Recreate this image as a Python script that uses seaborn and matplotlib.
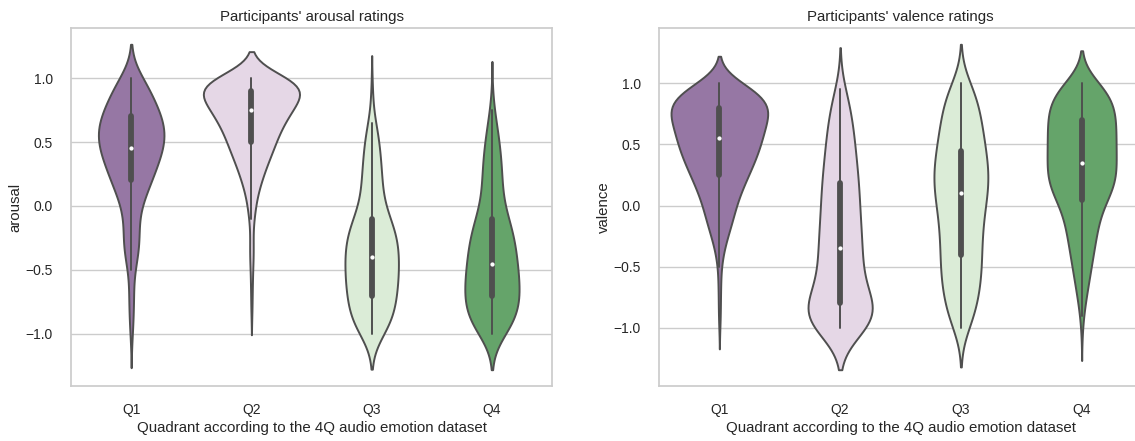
import numpy as np
import pandas as pd
import matplotlib
matplotlib.use("Agg")
import matplotlib.pyplot as plt
import seaborn as sns

# rating levels (sliders snapped to 0.05) and how many ratings fell on each level
LEVELS = [-1.0, -0.95, -0.9, -0.85, -0.8, -0.75, -0.7, -0.65, -0.6, -0.55,
          -0.5, -0.45, -0.4, -0.35, -0.3, -0.25, -0.2, -0.15, -0.1, -0.05,
          0.0, 0.05, 0.1, 0.15, 0.2, 0.25, 0.3, 0.35, 0.4, 0.45,
          0.5, 0.55, 0.6, 0.65, 0.7, 0.75, 0.8, 0.85, 0.9, 0.95,
          1.0]
QUADRANTS = ["Q1", "Q2", "Q3", "Q4"]

arousal_q1 = [1, 1, 1, 1, 1, 1, 2, 2, 0, 0,
              2, 3, 3, 4, 5, 5, 4, 3, 3, 4,
              5, 6, 7, 10, 11, 11, 13, 14, 15, 17,
              18, 18, 18, 17, 16, 15, 12, 10, 10, 9,
              10]
arousal_q2 = [0, 0, 0, 0, 1, 0, 0, 1, 0, 1,
              0, 1, 1, 1, 1, 1, 0, 1, 1, 2,
              2, 2, 3, 4, 5, 6, 7, 8, 10, 11,
              12, 13, 14, 16, 18, 20, 22, 24, 28, 30,
              30]
arousal_q3 = [9, 10, 10, 11, 11, 12, 12, 12, 13, 13,
              13, 13, 13, 13, 13, 13, 12, 11, 9, 7,
              6, 5, 5, 5, 5, 5, 5, 4, 4, 4,
              4, 3, 3, 3, 0, 0, 0, 1, 1, 0,
              0]
arousal_q4 = [10, 11, 12, 13, 14, 14, 14, 14, 14, 13,
              13, 13, 12, 12, 12, 11, 11, 10, 8, 7,
              6, 5, 5, 5, 5, 5, 5, 5, 4, 4,
              4, 3, 3, 2, 2, 1, 0, 1, 0, 0,
              0]

valence_q1 = [0, 1, 0, 1, 0, 1, 0, 1, 1, 0,
              1, 1, 2, 2, 3, 4, 5, 6, 7, 7,
              8, 9, 10, 11, 13, 14, 15, 17, 18, 19,
              20, 21, 21, 22, 23, 24, 26, 26, 22, 17,
              15]
valence_q2 = [28, 24, 21, 19, 16, 14, 12, 11, 10, 10,
              10, 11, 11, 10, 10, 10, 10, 10, 9, 9,
              9, 9, 9, 9, 9, 8, 8, 8, 7, 7,
              7, 7, 6, 6, 6, 5, 5, 4, 4, 4,
              0]
valence_q3 = [7, 7, 7, 8, 9, 9, 10, 10, 11, 11,
              11, 11, 11, 11, 11, 11, 11, 12, 12, 12,
              13, 13, 15, 15, 15, 15, 15, 15, 13, 13,
              13, 12, 12, 11, 11, 10, 10, 9, 9, 8,
              8]
valence_q4 = [1, 0, 1, 1, 2, 2, 3, 3, 4, 4,
              5, 5, 6, 6, 7, 7, 8, 8, 9, 9,
              10, 13, 15, 17, 18, 18, 17, 17, 17, 17,
              17, 17, 17, 17, 17, 17, 17, 16, 15, 14,
              14]


def long_table(name, counts_per_quadrant):
    rows = []
    for q, counts in zip(QUADRANTS, counts_per_quadrant):
        vals = np.repeat(LEVELS, counts)
        rows.append(pd.DataFrame({"quadrant": q, name: vals}))
    return pd.concat(rows, ignore_index=True)


arousal = long_table("arousal", [arousal_q1, arousal_q2, arousal_q3, arousal_q4])
valence = long_table("valence", [valence_q1, valence_q2, valence_q3, valence_q4])

sns.set_theme(style="whitegrid")
plt.rcParams['font.family'] = ['Liberation Sans', 'DejaVu Sans']

fig = plt.figure(figsize=(11.35, 4.41), dpi=100)
ax1 = fig.add_axes([0.0626, 0.1247, 0.4238, 0.8118])
ax2 = fig.add_axes([0.5806, 0.1247, 0.4256, 0.8118])

panels = [(ax1, arousal, "arousal", "Participants' arousal ratings"),
          (ax2, valence, "valence", "Participants' valence ratings")]

for ax, df, col, title in panels:
    # common_norm so every violin gets the same area (old seaborn look)
    sns.violinplot(data=df, x="quadrant", y=col, hue="quadrant", order=QUADRANTS,
                   hue_order=QUADRANTS, palette="PRGn", legend=False, ax=ax,
                   common_norm=True, linewidth=1.4,
                   inner_kws=dict(box_width=4.2, whis_width=1.4, marker="o", markersize=2.2))
    ax.set_title(title, fontsize=10.8, pad=5)
    ax.set_xlabel("Quadrant according to the 4Q audio emotion dataset", fontsize=10.8, labelpad=3)
    ax.set_ylabel(col, fontsize=10.8, labelpad=2)
    ax.tick_params(axis="x", labelsize=10, pad=6)
    ax.tick_params(axis="y", labelsize=10, pad=7)

fig.savefig("out.png", dpi=100)
